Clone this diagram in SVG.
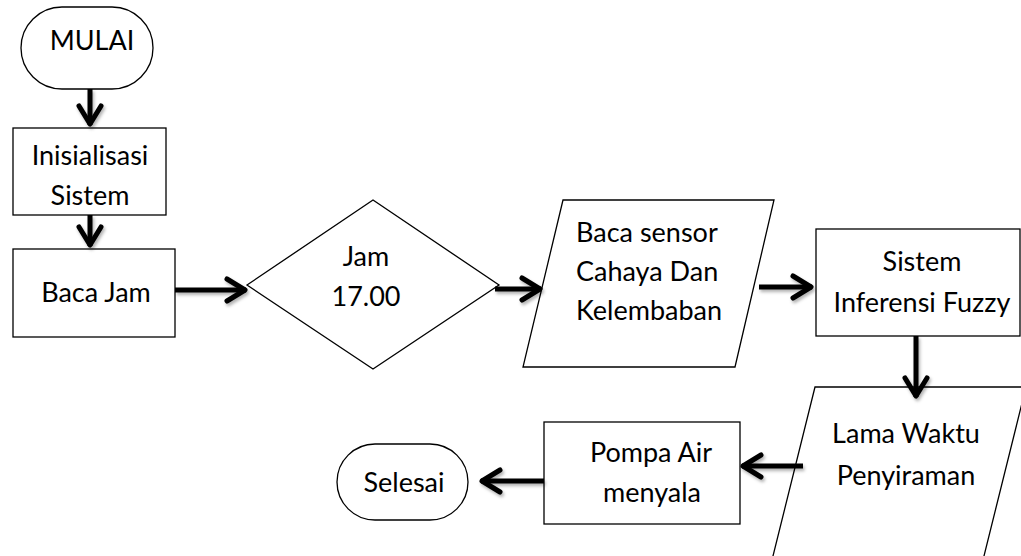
<svg xmlns="http://www.w3.org/2000/svg" width="1021" height="556" viewBox="0 0 1021 556">
<style>
.shape{fill:#fff;stroke:#000;stroke-width:1.3}
.t{font-family:Lato,"Liberation Sans",sans-serif;font-size:27px;fill:#000}
.c{text-anchor:middle}
.conn{fill:none;stroke:#000;stroke-width:5}
</style>
<defs>
<marker id="ah" markerUnits="userSpaceOnUse" markerWidth="30" markerHeight="30" viewBox="-24 -15 30 30" refX="0" refY="0" orient="auto">
<path d="M -19 -11 L -1 0 L -19 11" fill="none" stroke="#000" stroke-width="5" stroke-linecap="round" stroke-linejoin="round"/>
</marker>
<filter id="sh" x="-20%" y="-20%" width="140%" height="140%">
<feDropShadow dx="1.5" dy="2.5" stdDeviation="1.8" flood-color="#000" flood-opacity="0.3"/>
</filter>
</defs>
<g id="mulai">
<rect class="shape" x="21" y="7" width="132" height="82" rx="41" ry="41"/>
<text class="t c" x="92" y="50">MULAI</text>
</g>
<g id="inisialisasi">
<rect class="shape" x="13" y="128" width="153" height="87"/>
<text class="t c" x="90" y="165">Inisialisasi</text>
<text class="t c" x="90" y="205">Sistem</text>
</g>
<g id="bacajam">
<rect class="shape" x="13" y="249" width="162" height="88"/>
<text class="t c" x="96" y="302">Baca Jam</text>
</g>
<g id="jam1700">
<polygon class="shape" points="247,285 373,200 499,285 373,369"/>
<text class="t c" x="366" y="266">Jam</text>
<text class="t c" x="366" y="306">17.00</text>
</g>
<g id="bacasensor">
<polygon class="shape" points="563,200 774,200 735,367 523,367"/>
<text class="t" x="576" y="242">Baca sensor</text>
<text class="t" x="576" y="281">Cahaya Dan</text>
<text class="t" x="576" y="320">Kelembaban</text>
</g>
<g id="fuzzy">
<rect class="shape" x="816" y="229" width="204" height="107"/>
<text class="t c" x="922" y="271">Sistem</text>
<text class="t c" x="922" y="312">Inferensi Fuzzy</text>
</g>
<g id="lamawaktu">
<polygon class="shape" points="815,387 1026,387 983,560 772,560"/>
<text class="t c" x="906" y="443">Lama Waktu</text>
<text class="t c" x="906" y="485">Penyiraman</text>
</g>
<g id="pompa">
<rect class="shape" x="544" y="422" width="196" height="102"/>
<text class="t c" x="651" y="462">Pompa Air</text>
<text class="t c" x="652" y="502">menyala</text>
</g>
<g id="selesai">
<rect class="shape" x="337" y="444" width="131" height="76" rx="38" ry="38"/>
<text class="t c" x="404" y="492">Selesai</text>
</g>
<g id="connectors" filter="url(#sh)">
<line class="conn" x1="90" y1="89" x2="90" y2="125" marker-end="url(#ah)"/>
<line class="conn" x1="90" y1="215" x2="90" y2="246" marker-end="url(#ah)"/>
<line class="conn" x1="175" y1="290" x2="246" y2="290" marker-end="url(#ah)"/>
<line class="conn" x1="495" y1="289" x2="541" y2="289" marker-end="url(#ah)"/>
<line class="conn" x1="759" y1="287" x2="812" y2="287" marker-end="url(#ah)"/>
<line class="conn" x1="916" y1="336" x2="916" y2="397" marker-end="url(#ah)"/>
<line class="conn" x1="803" y1="466" x2="742" y2="466" marker-end="url(#ah)"/>
<line class="conn" x1="544" y1="481" x2="481" y2="481" marker-end="url(#ah)"/>
</g>
</svg>
